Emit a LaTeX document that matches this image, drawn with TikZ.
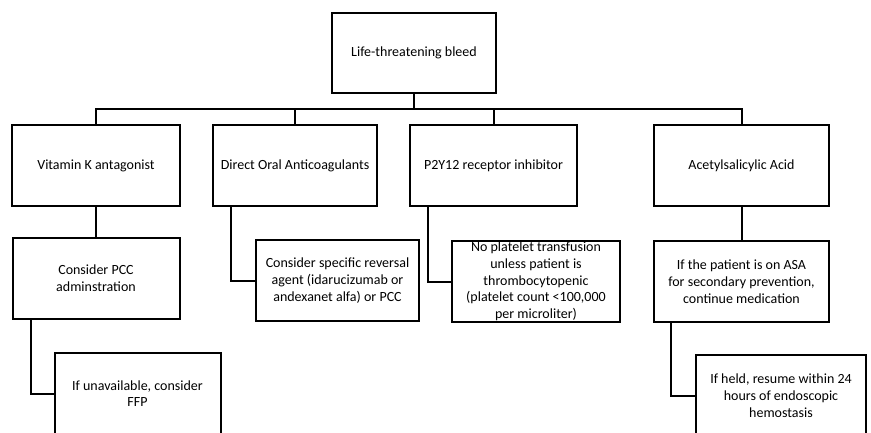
\documentclass[tikz,border=0pt]{standalone}
\usepackage{fontspec}
\setmainfont{Carlito}
\usetikzlibrary{positioning}

\begin{document}
\begin{tikzpicture}[
    x=1pt, y=1pt,
    font=\fontsize{14}{16.7}\selectfont,
    box/.style={
        draw, line width=2pt, align=center,
        minimum height=81pt, inner sep=1pt
      },
    link/.style={line width=2pt}
  ]
  \useasboundingbox (0,0) rectangle (871,-433);
  \fill[white] (0,0) rectangle (871,-433);
  \clip (0,0) rectangle (871,-433);

  \node[box, minimum width=164pt, minimum height=80pt] (root) at (414,-53) {Life-threatening bleed};

  % first level
  \node[box, minimum width=168pt] (vka) at (96,-165.5) {Vitamin K antagonist};
  \node[box, minimum width=164pt, right=31pt of vka] (doac) {Direct Oral Anticoagulants};
  \node[box, minimum width=167pt, right=31pt of doac] (p2y) {P2Y12 receptor inhibitor};
  \node[box, minimum width=175pt, right=75pt of p2y] (asa) {Acetylsalicylic Acid};

  % second level
  \node[box, minimum width=167pt, below=30pt of vka] (pcc) {Consider PCC\\adminstration};
  \node[box, minimum width=163pt, below right=32pt and 43pt of doac.south west] (rev)
  {Consider specific reversal\\agent (idarucizumab or\\andexanet alfa) or PCC};
  \node[box, minimum width=168pt, below right=33pt and 42pt of p2y.south west] (plt)
  {No platelet transfusion\\unless patient is\\thrombocytopenic\\(platelet count <100,000\\per microliter)};
  \node[box, minimum width=175pt, below=33pt of asa] (asa2)
  {If the patient is on ASA\\for secondary prevention,\\continue medication};

  % third level
  \node[box, minimum width=166pt, below right=32pt and 42pt of pcc.south west] (ffp)
  {If unavailable, consider\\FFP};
  \node[box, minimum width=170pt, below right=31pt and 42pt of asa2.south west] (held)
  {If held, resume within 24\\hours of endoscopic\\hemostasis};

  \draw[link] (root.south) -- ++(0,-15) coordinate (bus);
  \foreach \n in {vka, doac, p2y, asa}
    \draw[link] (bus) -| (\n.north);

  \draw[link] (vka.south) -- (vka.south |- pcc.north);
  \draw[link] (asa.south) -- (asa.south |- asa2.north);
  \draw[link] ([xshift=19pt]doac.south west) |- (rev.west);
  \draw[link] ([xshift=19pt]p2y.south west) |- (plt.west);
  \draw[link] ([xshift=19pt]pcc.south west) |- (ffp.west);
  \draw[link] ([xshift=18pt]asa2.south west) |- (held.west);

\end{tikzpicture}
\end{document}
